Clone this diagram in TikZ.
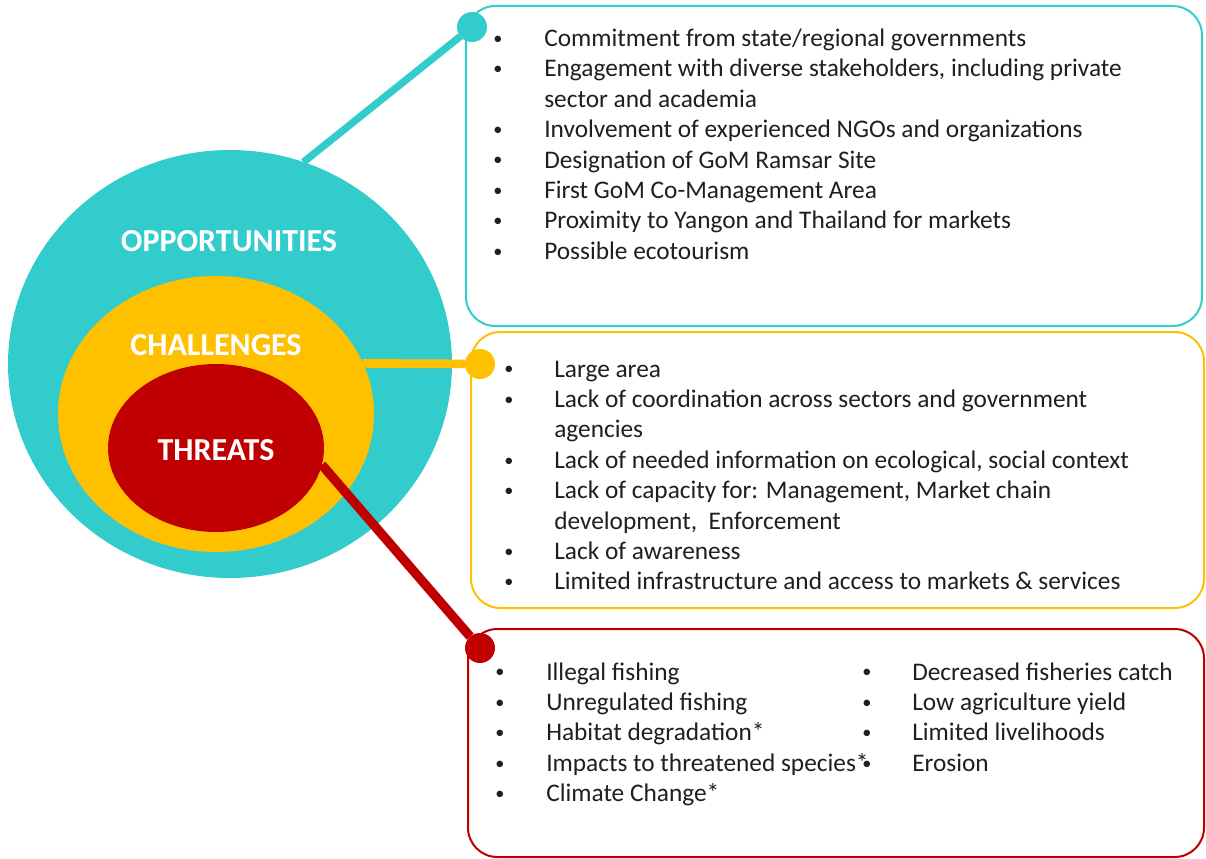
\documentclass[tikz,border=0pt]{standalone}
\usepackage{fontspec}
\setmainfont{Carlito}
\usepackage{array}
\usepackage{graphicx}
\usetikzlibrary{shapes.geometric}
\definecolor{oppcol}{HTML}{33CCCC}
\definecolor{chalcol}{HTML}{FFC000}
\definecolor{thrcol}{HTML}{C00000}
\definecolor{txtcol}{HTML}{1F1F1F}
\newcommand{\blt}{\raisebox{1.6pt}{\scalebox{0.72}{\textbullet}}}
\newcommand{\itm}[1]{\blt & #1\\}
\newcommand{\cnt}[1]{ & #1\\}

\begin{document}
\begin{tikzpicture}[x=0.75pt,y=-0.75pt,
        ring/.style={ellipse,fill=#1,inner sep=0pt,outer sep=0pt},
        tag/.style={text=white,font=\fontsize{24}{28}\selectfont\bfseries},
        frame/.style={rectangle,draw=#1,line width=1.5pt,rounded corners=22pt,inner sep=0pt,fill=white},
        dot/.style={circle,fill=#1,minimum size=22.5pt,inner sep=0pt,outer sep=0pt},
        link/.style={draw=#1,line width=6pt},
        list/.style={anchor=base west,inner sep=0pt,text=txtcol,font=\fontsize{19}{22.8}\selectfont}]
    \useasboundingbox (0,0) rectangle (1206,859);

    % nested rings
    \node[ring=oppcol,  minimum width=333pt,minimum height=321pt] (opp)  at (230,364) {};
    \node[ring=chalcol, minimum width=237pt,minimum height=207pt] (chal) at (216,414) {};
    \node[ring=thrcol,  minimum width=162pt,minimum height=126pt] (thr)  at (216,448) {};
    \node[tag] (opptag)  at (229,241) {OPPORTUNITIES};
    \node[tag] (chaltag) at (216,345) {CHALLENGES};
    \node[tag] (thrtag)  at (216,450) {THREATS};

    % frames
    \node[frame=oppcol,  minimum width=552pt,   minimum height=240pt] (oppfr)  at (834,166)   {};
    \node[frame=chalcol, minimum width=549.75pt,minimum height=207pt] (chalfr) at (837.5,470) {};
    \node[frame=thrcol,  minimum width=552pt,   minimum height=171pt] (thrfr)  at (836,743)   {};

    % connectors
    \node[dot=oppcol]  (oppdot)  at (472,27)  {};
    \node[dot=chalcol] (chaldot) at (480,364) {};
    \node[dot=thrcol]  (thrdot)  at (480,648) {};
    \path[link=oppcol,line width=5.5pt]  (opp.70)  -- (oppdot);
    \path[link=chalcol,line width=6.5pt] (chal.19) -- (chaldot);
    \path[link=thrcol,line width=7pt]    (thr.-9)  -- (thrdot);

    % lists
    \node[list] (opplist) at (493,46.5) {\begin{tabular}[t]{@{}p{38.25pt}@{}l@{}}
        \itm{Commitment from state/regional governments}
        \itm{Engagement with diverse stakeholders, including private}
        \cnt{sector and academia}
        \itm{Involvement of experienced NGOs and organizations}
        \itm{Designation of GoM Ramsar Site}
        \itm{First GoM Co-Management Area}
        \itm{Proximity to Yangon and Thailand for markets}
        \itm{Possible ecotourism}
    \end{tabular}};
    \node[list] (challist) at (504,377) {\begin{tabular}[t]{@{}p{37.5pt}@{}l@{}}
        \itm{Large area}
        \itm{Lack of coordination across sectors and government}
        \cnt{agencies}
        \itm{Lack of needed information on ecological, social context}
        \itm{Lack of capacity for: Management, Market chain}
        \cnt{development,\ \ Enforcement}
        \itm{Lack of awareness}
        \itm{Limited infrastructure and access to markets \& services}
    \end{tabular}};
    \node[list] (thrlist) at (495,680) {\begin{tabular}[t]{@{}p{38.25pt}@{}l@{}}
        \itm{Illegal fishing}
        \itm{Unregulated fishing}
        \itm{Habitat degradation*}
        \itm{Impacts to threatened species*}
        \itm{Climate Change*}
    \end{tabular}};
    \node[list] (thrlistb) at (862,680) {\begin{tabular}[t]{@{}p{37.5pt}@{}l@{}}
        \itm{Decreased fisheries catch}
        \itm{Low agriculture yield}
        \itm{Limited livelihoods}
        \itm{Erosion}
    \end{tabular}};
\end{tikzpicture}
\end{document}
